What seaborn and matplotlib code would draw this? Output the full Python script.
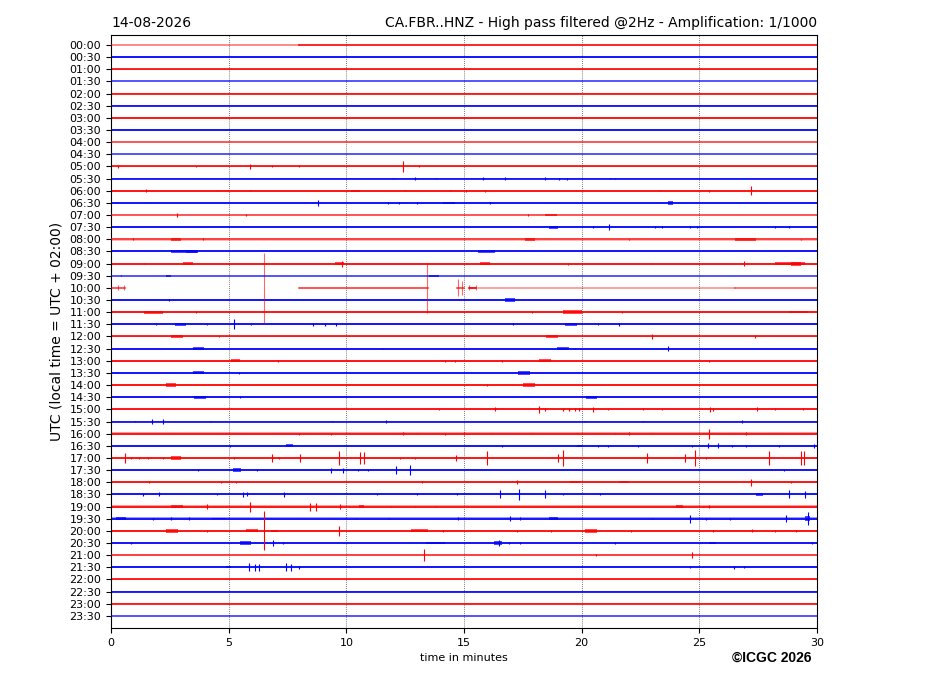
import matplotlib
matplotlib.use("Agg")
import matplotlib.pyplot as plt
import pandas as pd
import seaborn as sns

# helicorder rows: one every 30 minutes
row_labels = ["%02d:%02d" % (h, m) for h in range(24) for m in (0, 30)]

# half-thickness of the background noise of each row (in row units)
noise = [0.03, 0.05, 0.06, 0.09, 0.06, 0.04, 0.08, 0.06, 0.09, 0.09,
         0.07, 0.07, 0.07, 0.08, 0.11, 0.09, 0.11, 0.08, 0.09, 0.09,
         0.06, 0.09, 0.08, 0.09, 0.08, 0.09, 0.10, 0.09, 0.09, 0.09,
         0.09, 0.08, 0.10, 0.09, 0.08, 0.08, 0.08, 0.08, 0.10, 0.10,
         0.10, 0.10, 0.10, 0.09, 0.06, 0.06, 0.05, 0.06]

# rows whose trace looks faded
faded_rows = {3: 0.6, 8: 0.6, 9: 0.6, 14: 0.6, 16: 0.7, 19: 0.6, 42: 0.7, 47: 0.6}

# rows with gaps / partial data: (row, start min, end min, opacity)
segments = [(0, 0.0, 8.0, 0.5), (0, 8.0, 30.0, 1.0),
            (20, 0.0, 0.6, 0.6), (20, 8.0, 13.45, 0.6), (20, 14.7, 15.0, 0.6),
            (20, 15.2, 15.5, 1.0), (20, 15.6, 26.5, 0.3), (20, 26.5, 30.0, 0.45)]

# short spikes: (row, minute, half amplitude in row units)
spikes = [
    (10, 0.28, 0.12), (10, 3.6, 0.06), (10, 5.92, 0.22), (10, 6.83, 0.08), (10, 7.97, 0.08),
    (10, 12.42, 0.42), (10, 13.1, 0.08),
    (11, 12.0, 0.06), (11, 12.9, 0.1), (11, 13.8, 0.06), (11, 15.79, 0.14), (11, 16.73, 0.1),
    (11, 18.46, 0.12), (11, 19.02, 0.08), (11, 19.38, 0.08), (11, 21.2, 0.06), (11, 21.4, 0.06),
    (12, 1.49, 0.14), (12, 4.5, 0.06), (12, 5.9, 0.06), (12, 12.5, 0.06), (12, 14.4, 0.06),
    (12, 15.1, 0.08), (12, 15.9, 0.08), (12, 23.3, 0.06), (12, 25.4, 0.1), (12, 27.2, 0.35),
    (13, 8.81, 0.25), (13, 11.76, 0.1), (13, 12.25, 0.08), (13, 13.0, 0.08), (13, 16.1, 0.06),
    (14, 2.8, 0.14), (14, 5.74, 0.06), (14, 17.7, 0.1),
    (15, 20.5, 0.08), (15, 21.15, 0.27), (15, 23.1, 0.08), (15, 23.4, 0.08), (15, 24.6, 0.06),
    (15, 24.9, 0.06), (15, 28.2, 0.1), (15, 28.8, 0.06),
    (16, 0.92, 0.08), (16, 3.9, 0.08), (16, 22.0, 0.06), (16, 29.3, 0.06),
    (18, 1.4, 0.06), (18, 9.8, 0.25), (18, 19.4, 0.08), (18, 23.0, 0.06), (18, 26.9, 0.18),
    (19, 0.42, 0.06),
    (20, 0.28, 0.2), (20, 0.57, 0.2), (20, 6.49, 2.85), (20, 13.43, 2.05), (20, 14.75, 0.7),
    (20, 14.9, 0.6), (20, 15.2, 0.2), (20, 15.5, 0.2),
    (21, 2.48, 0.08),
    (22, 3.6, 0.06), (22, 17.9, 0.06), (22, 21.7, 0.06),
    (23, 1.9, 0.06), (23, 4.1, 0.06), (23, 5.21, 0.41), (23, 5.95, 0.06), (23, 8.57, 0.1),
    (23, 9.1, 0.1), (23, 9.55, 0.1), (23, 17.1, 0.08), (23, 20.7, 0.06), (23, 21.6, 0.1),
    (24, 4.6, 0.06), (24, 23.0, 0.22), (24, 27.35, 0.1),
    (25, 11.5, 0.06), (25, 19.7, 0.06), (25, 23.65, 0.2),
    (26, 7.1, 0.06), (26, 14.2, 0.06), (26, 14.6, 0.06), (26, 16.6, 0.06), (26, 25.4, 0.1),
    (27, 5.45, 0.06),
    (28, 15.98, 0.06),
    (29, 5.5, 0.08),
    (30, 13.95, 0.06), (30, 16.33, 0.16), (30, 18.2, 0.27), (30, 18.45, 0.1), (30, 19.2, 0.1),
    (30, 19.45, 0.1), (30, 19.7, 0.1), (30, 19.9, 0.1), (30, 20.47, 0.22), (30, 21.1, 0.06),
    (30, 22.6, 0.08), (30, 23.4, 0.06), (30, 25.45, 0.18), (30, 25.6, 0.1), (30, 27.45, 0.16),
    (30, 28.2, 0.08), (30, 29.4, 0.08),
    (31, 1.0, 0.06), (31, 1.73, 0.22), (31, 2.2, 0.22), (31, 4.2, 0.06), (31, 9.4, 0.08),
    (31, 11.7, 0.1), (31, 20.15, 0.06), (31, 22.6, 0.08), (31, 26.8, 0.1),
    (32, 8.0, 0.08), (32, 9.35, 0.08), (32, 12.4, 0.1), (32, 13.0, 0.06), (32, 14.2, 0.08),
    (32, 15.0, 0.1), (32, 16.2, 0.06), (32, 17.9, 0.06), (32, 19.8, 0.06), (32, 21.4, 0.06),
    (32, 22.0, 0.12), (32, 23.0, 0.06), (32, 25.4, 0.41), (32, 27.0, 0.1),
    (33, 5.07, 0.08), (33, 16.6, 0.06), (33, 20.7, 0.06), (33, 21.1, 0.06), (33, 22.4, 0.06),
    (33, 24.7, 0.06), (33, 25.35, 0.2), (33, 25.8, 0.2), (33, 26.4, 0.08), (33, 27.0, 0.08),
    (33, 28.4, 0.08), (33, 29.86, 0.14),
    (34, 0.6, 0.41), (34, 0.85, 0.1), (34, 1.2, 0.1), (34, 1.59, 0.1), (34, 2.2, 0.1),
    (34, 5.24, 0.1), (34, 6.83, 0.33), (34, 7.15, 0.08), (34, 8.03, 0.33), (34, 9.7, 0.6),
    (34, 10.6, 0.5), (34, 10.77, 0.5), (34, 12.3, 0.06), (34, 12.9, 0.06), (34, 14.66, 0.22),
    (34, 15.98, 0.6), (34, 19.0, 0.3), (34, 19.2, 0.68), (34, 22.78, 0.41), (34, 24.4, 0.33),
    (34, 24.83, 0.68), (34, 25.3, 0.1), (34, 27.95, 0.55), (34, 29.3, 0.6), (34, 29.45, 0.6),
    (35, 3.68, 0.08), (35, 6.2, 0.06), (35, 9.35, 0.2), (35, 9.84, 0.2), (35, 10.5, 0.1),
    (35, 10.9, 0.1), (35, 12.1, 0.33), (35, 12.72, 0.41), (35, 28.6, 0.06),
    (36, 1.63, 0.1), (36, 4.67, 0.06), (36, 5.3, 0.06), (36, 13.2, 0.08), (36, 17.25, 0.16),
    (36, 27.2, 0.28), (36, 28.9, 0.08),
    (37, 1.37, 0.1), (37, 2.05, 0.16), (37, 4.5, 0.06), (37, 5.6, 0.22), (37, 5.8, 0.16),
    (37, 7.34, 0.2), (37, 11.3, 0.06), (37, 13.0, 0.08), (37, 14.7, 0.08), (37, 16.54, 0.33),
    (37, 17.32, 0.47), (37, 18.45, 0.33), (37, 19.2, 0.06), (37, 20.8, 0.08), (37, 28.8, 0.33),
    (37, 29.5, 0.28),
    (38, 4.1, 0.2), (38, 5.92, 0.41), (38, 8.47, 0.33), (38, 8.71, 0.33), (38, 9.75, 0.2),
    (38, 11.9, 0.06), (38, 12.9, 0.06), (38, 13.8, 0.06), (38, 25.4, 0.1),
    (39, 1.77, 0.08), (39, 2.55, 0.1), (39, 3.3, 0.1), (39, 10.4, 0.06), (39, 11.8, 0.06),
    (39, 14.73, 0.14), (39, 16.97, 0.2), (39, 17.4, 0.1), (39, 23.0, 0.06), (39, 24.6, 0.33),
    (39, 25.3, 0.08), (39, 26.3, 0.08), (39, 28.68, 0.28), (39, 29.62, 0.55),
    (40, 4.1, 0.08), (40, 6.52, 1.6), (40, 9.7, 0.41), (40, 14.1, 0.06), (40, 17.25, 0.08),
    (40, 18.7, 0.1), (40, 22.1, 0.06), (40, 25.6, 0.1), (40, 27.24, 0.12), (40, 28.2, 0.08),
    (40, 29.1, 0.08),
    (41, 0.85, 0.06), (41, 6.9, 0.22), (41, 7.3, 0.1), (41, 16.5, 0.28), (41, 16.9, 0.1),
    (41, 17.4, 0.08), (41, 21.43, 0.1), (41, 29.8, 0.1),
    (42, 13.31, 0.5), (42, 20.6, 0.06), (42, 24.69, 0.22),
    (43, 5.88, 0.33), (43, 6.1, 0.3), (43, 6.3, 0.3), (43, 7.44, 0.33), (43, 7.65, 0.28),
    (43, 8.0, 0.14), (43, 24.6, 0.1), (43, 26.46, 0.14), (43, 26.9, 0.08),
]

# longer wave trains: (row, start min, end min, half amplitude)
bursts = [
    (12, 10.2, 10.6, 0.08),
    (13, 14.1, 14.6, 0.1), (13, 23.65, 23.9, 0.18),
    (14, 18.45, 18.95, 0.1),
    (15, 18.6, 19.0, 0.12),
    (16, 2.55, 2.97, 0.12), (16, 17.6, 18.0, 0.12), (16, 26.5, 27.4, 0.1),
    (17, 2.55, 3.7, 0.1), (17, 3.2, 3.65, 0.14), (17, 15.6, 16.3, 0.15),
    (18, 3.05, 3.47, 0.11), (18, 9.5, 9.9, 0.15), (18, 15.7, 16.1, 0.12), (18, 28.2, 29.5, 0.12),
    (18, 28.9, 29.3, 0.16),
    (19, 2.35, 2.55, 0.1), (19, 13.5, 13.95, 0.08),
    (21, 16.76, 17.18, 0.14),
    (22, 1.4, 2.2, 0.12), (22, 19.2, 20.0, 0.15), (22, 28.8, 29.6, 0.06),
    (23, 2.7, 3.2, 0.15), (23, 19.3, 19.8, 0.15),
    (24, 2.55, 3.05, 0.12), (24, 18.5, 19.0, 0.12),
    (25, 3.47, 3.97, 0.13), (25, 18.95, 19.45, 0.13),
    (26, 5.1, 5.5, 0.13), (26, 18.2, 18.7, 0.13),
    (27, 3.47, 3.97, 0.13), (27, 17.3, 17.8, 0.15),
    (28, 2.34, 2.76, 0.13), (28, 17.5, 18.0, 0.13),
    (29, 3.54, 4.04, 0.13), (29, 20.2, 20.65, 0.13),
    (33, 7.44, 7.72, 0.12), (33, 19.8, 20.0, 0.1),
    (34, 2.55, 2.97, 0.15),
    (35, 5.17, 5.52, 0.15),
    (36, 19.5, 19.95, 0.1), (36, 21.6, 22.0, 0.08),
    (37, 27.4, 27.7, 0.13),
    (38, 2.55, 3.05, 0.12), (38, 10.55, 10.76, 0.15), (38, 24.0, 24.3, 0.1),
    (39, 0.2, 0.64, 0.1), (39, 4.3, 4.9, 0.06), (39, 18.6, 19.0, 0.13), (39, 29.5, 29.7, 0.2),
    (40, 2.34, 2.83, 0.15), (40, 5.75, 6.25, 0.12), (40, 6.8, 7.1, 0.1), (40, 12.75, 13.45, 0.12),
    (40, 20.15, 20.65, 0.15),
    (41, 5.5, 5.95, 0.13), (41, 13.4, 14.2, 0.12), (41, 16.26, 16.6, 0.18), (41, 25.4, 25.7, 0.1),
    (43, 4.9, 5.1, 0.08),
]

def row_color(r):
    return "#ff0000" if r % 2 == 0 else "#0000ff"

fig = plt.figure(figsize=(9.27, 6.96), dpi=100)
ax = fig.add_axes([111 / 927, 1 - 628 / 696, 706 / 927, 593 / 696])

special = {s[0] for s in segments}
all_segments = list(segments)
for r in range(len(row_labels)):
    if r not in special:
        all_segments.append((r, 0.0, 30.0, faded_rows.get(r, 1.0)))

# noise bands and faded traces
for r, t0, t1, a in all_segments:
    c = row_color(r)
    n = noise[r]
    ax.fill_between([t0, t1], r - n, r + n, color=c, alpha=0.4 * a, lw=0)
    if a < 1.0:
        ax.plot([t0, t1], [r, r], color=c, lw=1.3, alpha=a, zorder=3)

# full traces through seaborn, one line per segment
full = [s for s in all_segments if s[3] >= 1.0]
df = pd.DataFrame({
    "seg": [i for i, s in enumerate(full) for _ in (0, 1)],
    "minute": [v for s in full for v in (s[1], s[2])],
    "row": [s[0] for s in full for _ in (0, 1)],
})
df["col"] = df["row"].map(lambda r: "r" if r % 2 == 0 else "b")
sns.lineplot(data=df, x="minute", y="row", hue="col", units="seg", estimator=None,
             palette={"r": "#ff0000", "b": "#0000ff"}, lw=1.2,
             legend=False, ax=ax, sort=False)

for r, t0, t1, amp in bursts:
    ax.fill_between([t0, t1], r - amp, r + amp, color=row_color(r), alpha=0.7, lw=0)

for r, t, amp in spikes:
    a = 0.6 if r == 20 else 1.0
    ax.vlines(t, r - amp, r + amp, colors=row_color(r), lw=0.8, alpha=a)

for x in range(5, 30, 5):
    ax.axvline(x, color="0.3", lw=0.6, ls=(0, (1, 1.5)), zorder=0)

ax.set_xlim(0, 30)
ax.set_ylim(48.0, -0.82)
ax.set_xticks(range(0, 31, 5))
ax.set_yticks(range(len(row_labels)))
ax.set_yticklabels(row_labels)
ax.tick_params(labelsize=8)
ax.set_xlabel("time in minutes", fontsize=8)
ax.set_ylabel("UTC (local time = UTC + 02:00)", fontsize=10)
ax.set_title("14-08-2026", loc="left", fontsize=10)
ax.set_title("CA.FBR..HNZ - High pass filtered @2Hz - Amplification: 1/1000", loc="right", fontsize=10)
fig.text(811 / 927, 1 - 658 / 696, "\u00a9ICGC 2026", ha="right", va="center",
         fontsize=10, fontweight="bold", family="Liberation Sans")

fig.savefig("out.png", dpi=100)
